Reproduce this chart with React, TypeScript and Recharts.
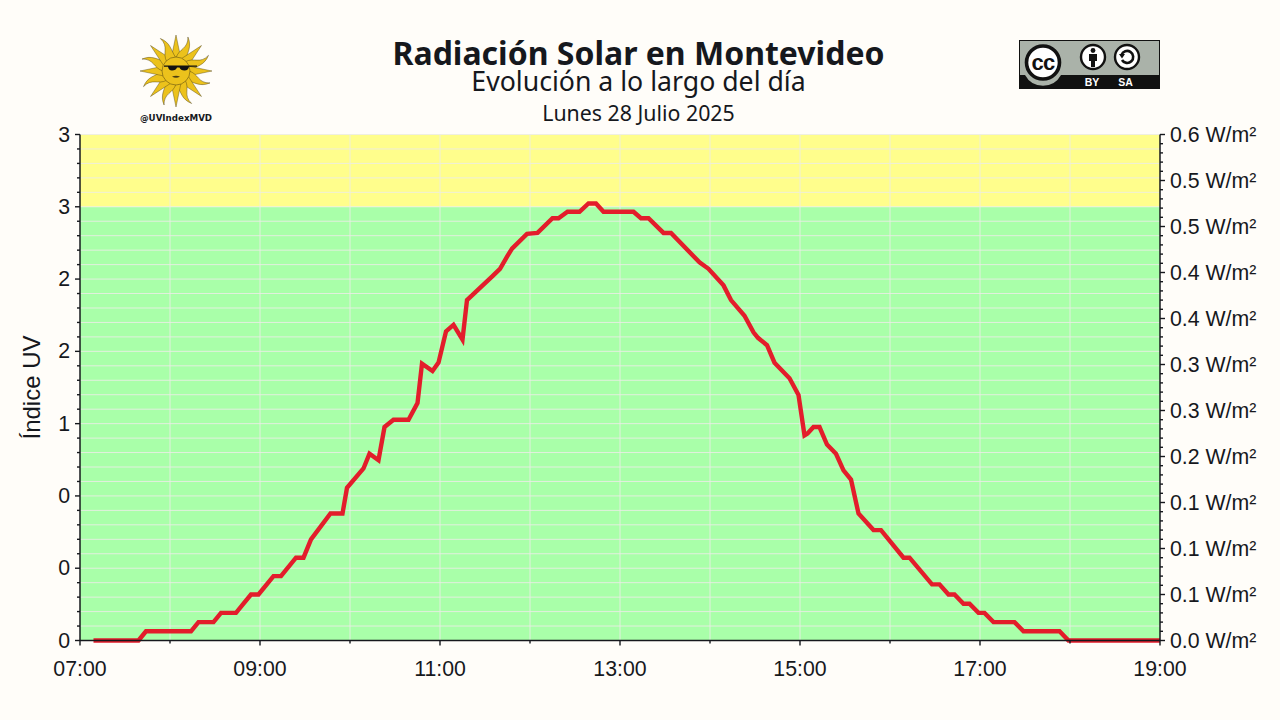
import { LineChart, Line, XAxis, YAxis, ReferenceArea, ReferenceLine } from 'recharts'

const times = [
  '07:09', '07:39', '07:44', '08:14', '08:19', '08:29', '08:34', '08:44', '08:49', '08:54',
  '08:59', '09:09', '09:14', '09:24', '09:29', '09:34', '09:47', '09:55', '09:58', '10:09',
  '10:13', '10:19', '10:23', '10:29', '10:39', '10:45', '10:48', '10:55', '10:59', '11:04',
  '11:09', '11:15', '11:18', '11:35', '11:40', '11:45', '11:48', '11:58', '12:05', '12:15',
  '12:19', '12:25', '12:33', '12:39', '12:44', '12:49', '13:09', '13:14', '13:19', '13:29',
  '13:34', '13:53', '13:59', '14:09', '14:14', '14:23', '14:29', '14:32', '14:38', '14:43',
  '14:53', '14:59', '15:03', '15:05', '15:09', '15:13', '15:18', '15:24', '15:29', '15:34',
  '15:39', '15:49', '15:54', '16:09', '16:13', '16:28', '16:33', '16:39', '16:43', '16:49',
  '16:53', '16:59', '17:03', '17:09', '17:23', '17:29', '17:53', '17:59', '19:00',
]
// W/m²
const irradiance = [
  0, 0, 0.01, 0.01, 0.02, 0.02, 0.03, 0.03, 0.04, 0.05,
  0.05, 0.07, 0.07, 0.09, 0.09, 0.11, 0.138, 0.138, 0.166, 0.187,
  0.203, 0.196, 0.232, 0.24, 0.24, 0.258, 0.301, 0.293, 0.302, 0.336,
  0.343, 0.327, 0.37, 0.396, 0.404, 0.418, 0.426, 0.442, 0.443, 0.459,
  0.459, 0.466, 0.466, 0.475, 0.475, 0.466, 0.466, 0.459, 0.459, 0.443,
  0.443, 0.411, 0.404, 0.386, 0.37, 0.353, 0.335, 0.329, 0.321, 0.302,
  0.285, 0.267, 0.223, 0.225, 0.232, 0.232, 0.213, 0.203, 0.185, 0.175,
  0.138, 0.12, 0.12, 0.09, 0.09, 0.061, 0.061, 0.05, 0.05, 0.04,
  0.04, 0.03, 0.03, 0.02, 0.02, 0.01, 0.01, 0, 0,
]

const hourTicks = [420, 480, 540, 600, 660, 720, 780, 840, 900, 960, 1020, 1080, 1140]
const hourLabels = ['07:00', '', '09:00', '', '11:00', '', '13:00', '', '15:00', '', '17:00', '', '19:00']

const uvTicks = [
  0, 0.1, 0.2, 0.3, 0.4, 0.5, 0.6, 0.7, 0.8, 0.9, 1, 1.1, 1.2, 1.3, 1.4, 1.5, 1.6, 1.7,
  1.8, 1.9, 2, 2.1, 2.2, 2.3, 2.4, 2.5, 2.6, 2.7, 2.8, 2.9, 3, 3.1, 3.2, 3.3, 3.4, 3.5,
]
const uvLabels = ['0', '0', '0', '1', '2', '2', '3', '3']

const wattTicks = [
  0, 0.01, 0.02, 0.03, 0.04, 0.05, 0.06, 0.07, 0.08, 0.09, 0.1, 0.11, 0.12, 0.13,
  0.14, 0.15, 0.16, 0.17, 0.18, 0.19, 0.2, 0.21, 0.22, 0.23, 0.24, 0.25, 0.26, 0.27,
  0.28, 0.29, 0.3, 0.31, 0.32, 0.33, 0.34, 0.35, 0.36, 0.37, 0.38, 0.39, 0.4, 0.41,
  0.42, 0.43, 0.44, 0.45, 0.46, 0.47, 0.48, 0.49, 0.5, 0.51, 0.52, 0.53, 0.54, 0.55,
]
const wattLabels = ['0.0', '0.1', '0.1', '0.1', '0.2', '0.3', '0.3', '0.4', '0.4', '0.5', '0.5', '0.6']

const toMinutes = (t: string) => Number(t.slice(0, 2)) * 60 + Number(t.slice(3))
const data = times.map((t, i) => ({ minute: toMinutes(t), watts: irradiance[i] }))

const INK = '#16181d'
const GRID = 'rgba(236,236,232,0.85)'
const AXIS_FONT = '"Liberation Sans", Arial, sans-serif'
const TITLE_FONT = '"Noto Sans", sans-serif'
const TICK_FONT_SIZE = 21.3

function HourTick({ x, y, index }: any) {
  const major = index % 2 === 0
  return (
    <g>
      <line x1={x} x2={x} y1={y} y2={y + (major ? 5 : 3)} stroke={INK} strokeWidth={1.4} />
      {major && (
        <text x={x} y={y + 35} textAnchor="middle" fontFamily={AXIS_FONT} fontSize={TICK_FONT_SIZE} fill={INK}>
          {hourLabels[index]}
        </text>
      )}
    </g>
  )
}

function UvTick({ x, y, index }: any) {
  const major = index % 5 === 0
  return (
    <g>
      <line x1={x} x2={x - (major ? 5 : 3)} y1={y} y2={y} stroke={INK} strokeWidth={1.4} />
      {major && (
        <text x={x - 10} y={y + 7} textAnchor="end" fontFamily={AXIS_FONT} fontSize={TICK_FONT_SIZE} fill={INK}>
          {uvLabels[index / 5]}
        </text>
      )}
    </g>
  )
}

function WattTick({ x, y, index }: any) {
  const major = index % 5 === 0
  return (
    <g>
      <line x1={x} x2={x + (major ? 5 : 3)} y1={y} y2={y} stroke={INK} strokeWidth={1.4} />
      {major && (
        <text x={x + 10} y={y + 7} textAnchor="start" fontFamily={AXIS_FONT} fontSize={TICK_FONT_SIZE} fill={INK}>
          {`${wattLabels[index / 5]} W/m²`}
        </text>
      )}
    </g>
  )
}

// Sun of May logo with sunglasses
function SunLogo() {
  const cx = 176
  const cy = 71
  const rays = Array.from({ length: 16 }, (_, i) => i * 22.5)
  return (
    <svg width={1280} height={720} style={{ position: 'absolute', left: 0, top: 0 }}>
      {rays.map((deg, i) => (
        <g key={deg} transform={`rotate(${deg} ${cx} ${cy})`}>
          {i % 2 === 0 ? (
            <path
              d={`M${cx - 5} ${cy - 12} L${cx} ${cy - 36} L${cx + 5} ${cy - 12} Z`}
              fill="#ecc21c"
              stroke="#4a3d10"
              strokeWidth={0.4}
            />
          ) : (
            <path
              d={`M${cx - 5} ${cy - 12} C${cx - 6} ${cy - 22} ${cx + 3} ${cy - 25} ${cx - 2} ${cy - 36} C${cx + 6} ${cy - 28} ${cx + 3} ${cy - 22} ${cx + 5} ${cy - 12} Z`}
              fill="#ecc21c"
              stroke="#4a3d10"
              strokeWidth={0.4}
            />
          )}
        </g>
      ))}
      <circle cx={cx} cy={cy} r={14} fill="#ecc21c" stroke="#4a3d10" strokeWidth={0.5} />
      <path d="M164 65.5 H197 V66.8 H189 Q188.5 70.5 184.5 70.5 Q180.5 70.5 179.5 67.5 H177 Q176 70.5 172 70.5 Q168.5 70.5 168 66.8 H164 Z" fill="#111" />
      <path d="M172 76.5 Q176 75 180 76.5 Q176 79 172 76.5 Z" fill="#4a3d10" />
      <text x={176} y={121} textAnchor="middle" fontFamily='"DejaVu Sans", sans-serif' fontWeight={700} fontSize={8.7} fill={INK}>
        @UVIndexMVD
      </text>
    </svg>
  )
}

// Creative Commons BY-SA badge
function CcBadge() {
  return (
    <svg width={1280} height={720} style={{ position: 'absolute', left: 0, top: 0 }}>
      <rect x={1019.5} y={40.5} width={140} height={48} fill="#aab2a9" stroke="#111" strokeWidth={1} />
      <rect x={1019} y={75} width={141} height={14} fill="#111" />
      <path d="M1025 75 A20.5 20.5 0 0 0 1061 75 Z" fill="#aab2a9" />
      <circle cx={1043} cy={62.5} r={16.5} fill="#fff" stroke="#111" strokeWidth={3.6} />
      <text x={1043} y={69.5} textAnchor="middle" fontFamily={AXIS_FONT} fontWeight={700} fontSize={22} letterSpacing={-0.8} fill="#111">
        cc
      </text>
      <circle cx={1093} cy={57} r={12} fill="#fff" stroke="#111" strokeWidth={2.4} />
      <circle cx={1093} cy={50.5} r={2.4} fill="#111" />
      <path d="M1089 54 H1097 V61 H1095 V67 H1091 V61 H1089 Z" fill="#111" />
      <circle cx={1127} cy={57} r={12} fill="#fff" stroke="#111" strokeWidth={2.4} />
      <path d="M1121.5 55 A6 6 0 1 1 1122 60" fill="none" stroke="#111" strokeWidth={2.6} />
      <path d="M1119 54 L1125 54 L1122 58.5 Z" fill="#111" />
      <text x={1092} y={86} textAnchor="middle" fontFamily={AXIS_FONT} fontWeight={700} fontSize={10.5} fill="#fff">
        BY
      </text>
      <text x={1125.5} y={86} textAnchor="middle" fontFamily={AXIS_FONT} fontWeight={700} fontSize={10.5} fill="#fff">
        SA
      </text>
    </svg>
  )
}

const centered = { position: 'absolute', left: 0, width: 1277, textAlign: 'center', color: INK, fontFamily: TITLE_FONT, whiteSpace: 'nowrap' } as const

export default function App() {
  return (
    <div style={{ position: 'absolute', left: 0, top: 0, width: 1280, height: 720, background: '#fffdf9', overflow: 'hidden' }}>
      <div style={{ ...centered, top: 37, fontSize: 32, fontWeight: 700, lineHeight: '32px' }}>Radiación Solar en Montevideo</div>
      <div style={{ ...centered, top: 67, fontSize: 26.67, lineHeight: '27px' }}>Evolución a lo largo del día</div>
      <div style={{ ...centered, top: 100, fontSize: 21.33, lineHeight: '25px' }}>Lunes 28 Julio 2025</div>
      <SunLogo />
      <CcBadge />
      <div style={{ position: 'absolute', left: 0, top: 0 }}>
        <LineChart width={1280} height={720} data={data} margin={{ top: 134.5, right: 0, bottom: 39.5, left: 0 }}>
          <ReferenceArea yAxisId="uv" y1={0} y2={3} fill="#a9ffa9" fillOpacity={1} stroke="none" />
          <ReferenceArea yAxisId="uv" y1={3} y2={3.5} fill="#fffe8c" fillOpacity={1} stroke="none" />
          {uvTicks.slice(1).map((v) => (
            <ReferenceLine key={`h${v}`} yAxisId="uv" y={v} stroke={GRID} strokeWidth={1} />
          ))}
          {hourTicks.slice(1, -1).map((v) => (
            <ReferenceLine key={`v${v}`} yAxisId="uv" x={v} stroke={GRID} strokeWidth={1} />
          ))}
          <XAxis
            dataKey="minute"
            type="number"
            domain={[420, 1140]}
            ticks={hourTicks}
            interval={0}
            height={40}
            tickLine={false}
            tickSize={0}
            tickMargin={0}
            tick={HourTick}
            axisLine={{ stroke: INK, strokeWidth: 1.5 }}
          />
          {/* no series sits on this axis, allowDataOverflow keeps its fixed domain */}
          <YAxis
            yAxisId="uv"
            type="number"
            domain={[0, 3.5]}
            ticks={uvTicks}
            interval={0}
            width={80}
            tickLine={false}
            tickSize={0}
            tickMargin={0}
            tick={UvTick}
            axisLine={{ stroke: INK, strokeWidth: 1.5 }}
            allowDataOverflow
            label={{ value: 'Índice UV', angle: -90, position: 'insideLeft', offset: 0, dx: 31, textAnchor: 'middle', fontFamily: AXIS_FONT, fontSize: 24, fill: INK }}
          />
          <YAxis
            yAxisId="watts"
            orientation="right"
            type="number"
            domain={[0, 0.55]}
            ticks={wattTicks}
            interval={0}
            width={120}
            tickLine={false}
            tickSize={0}
            tickMargin={0}
            tick={WattTick}
            axisLine={{ stroke: INK, strokeWidth: 1.5 }}
          />
          <Line
            yAxisId="watts"
            dataKey="watts"
            type="linear"
            stroke="#e31d2b"
            strokeWidth={4.4}
            dot={false}
            activeDot={false}
            isAnimationActive={false}
          />
        </LineChart>
      </div>
    </div>
  )
}
